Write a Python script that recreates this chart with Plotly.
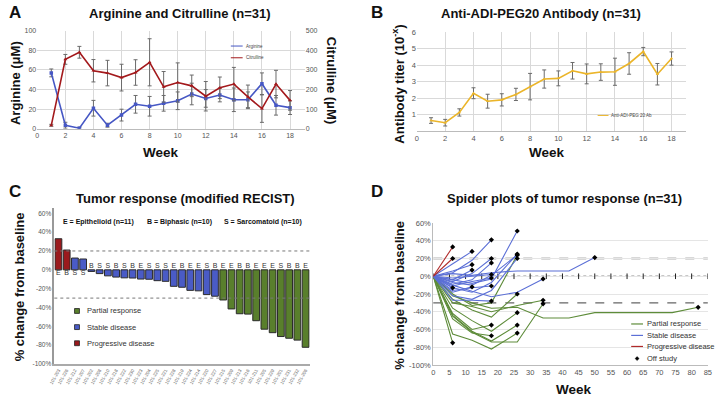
import plotly.graph_objects as go

W, H = 719, 402
FONT = "Liberation Sans, Arial, sans-serif"


def fx(x):
    return x / W


def fy(y):
    return 1 - y / H


# ---------------- Panel A: Arginine and Citrulline ----------------
weeks_a = list(range(1, 19))
arginine = [57, 3.7, 0.7, 21, 3.7, 14, 25, 23, 26, 28.6, 35.5, 31, 34.5, 29.6, 29.6, 46, 24, 21.6]
arginine_err = [4, 3, 1, 8, 2, 6, 9, 10, 8, 9, 11, 9, 7, 12, 8, 11, 10, 7]
citrulline = [18, 354, 390, 296, 284, 261, 287, 339, 214, 236, 219, 166, 209, 228, 163, 103, 228, 145]
citrulline_err = [5, 25, 30, 57, 65, 68, 65, 120, 78, 100, 55, 75, 55, 85, 60, 70, 70, 50]

# ---------------- Panel B: Anti-ADI-PEG20 antibody ----------------
weeks_b = list(range(1, 19))
antibody = [0.65, 0.52, 1.14, 2.3, 1.82, 1.9, 2.23, 2.7, 3.16, 3.2, 3.66, 3.47, 3.58, 3.6, 4.1, 4.82, 3.45, 4.4]
antibody_err = [0.17, 0.2, 0.22, 0.33, 0.42, 0.37, 0.37, 0.8, 0.55, 0.45, 0.5, 0.6, 0.5, 0.82, 0.65, 0.25, 0.65, 0.4]

# ---------------- Panel C: waterfall ----------------
patient_ids = ["101-203", "101-226", "101-212", "101-207", "101-202", "101-208", "101-210", "101-218",
               "101-222", "101-230", "101-223", "101-204", "101-225", "101-221", "101-228", "101-219",
               "101-224", "101-214", "101-220", "101-227", "101-215", "101-209", "101-213", "101-216",
               "101-211", "101-205", "101-229", "101-201", "101-231", "101-232", "101-206"]
response_pct = [33, 21, 12.5, 11.5, -1.7, -4, -6.4, -7.7, -8.5, -8.7, -9.8, -10, -11.5, -12.2, -17.5, -18.5,
                -21.8, -22.3, -26.3, -28, -32, -41.5, -46.6, -47, -54, -63, -66.7, -70.8, -72.6, -74.6, -82.2]
histology = list("EBSSBSSBSBESSSEBEESBEEBBEEESBBE")

# ---------------- Panel D: spider plot ----------------
spider_resp = ["PR"] * 11 + ["SD"] * 18 + ["PD"] * 2
spider_weeks = [
    [0, 6], [0, 6, 12, 18], [0, 6, 12, 18], [0, 6, 12, 18, 26], [0, 6, 12, 18, 26], [0, 6, 12, 18, 26],
    [0, 6, 12, 18, 26, 34], [0, 6, 12, 18, 26, 34], [0, 6, 12, 18, 26, 34, 42, 50, 74, 82],
    [0, 6, 12, 18, 26], [0, 6, 12, 18, 26],
    [0, 6, 12], [0, 6, 12], [0, 6, 12], [0, 6], [0, 6, 12, 18], [0, 6, 12, 18], [0, 6, 12, 18],
    [0, 6, 12, 18], [0, 6, 12, 18], [0, 6, 12, 18], [0, 6, 12, 18], [0, 6, 12, 18, 26],
    [0, 6, 12, 18, 26], [0, 6, 12, 18, 26], [0, 6, 12, 18, 26, 34], [0, 6, 12, 18, 26, 34, 42, 50],
    [0, 6, 12], [0, 6, 12, 18, 26],
    [0, 6], [0, 6],
]
spider_pct = [
    [0, -75], [0, -42, -60, -55], [0, -48, -64, -67], [0, -65, -72, -82, -64], [0, -44, -62, -73, -55],
    [0, -36, -50, -62, -41], [0, -45, -63, -74, -74, -31], [0, -30, -34, -40, -33, -27],
    [0, -22, -30, -36, -35, -47, -47, -41, -41, -35], [0, -20, -33, -30, 24], [0, -26, -38, -46, -20],
    [0, 14, 28], [0, 6, 13], [0, -4, 7], [0, -13], [0, 4, 18, 41], [0, -6, 3, 20], [0, -9, -4, 15],
    [0, -2, 0, 2], [0, -11, -6, -2], [0, -16, -13, -11], [0, -27, -27, -28], [0, -4, -8, -3, 51],
    [0, -13, -18, -7, 25], [0, -7, -10, 1, 24], [0, -10, -17, -23, -18, -3], [0, 3, 1, 4, 6, 6, 6, 21],
    [0, -18, -12], [0, -22, -26, -16, 20],
    [0, 33], [0, 20],
]
off_study = [True] * 31

# ---------------- colours ----------------
BLUE_A = "#4657C4"
RED_A = "#A3191C"
GOLD = "#EBB52A"
ERR = "#6b6b6b"
bar_colors_map = {"PR": "#597F2C", "SD": "#4A5BC6", "PD": "#9A1A1D"}
spider_colors = {"PR": "#5E8C3A", "SD": "#5B6FD6", "PD": "#B02A2A"}


def recist(v):
    if v >= 20:
        return "PD"
    if v <= -30:
        return "PR"
    return "SD"


fig = go.Figure()
err_style = dict(type="data", color=ERR, thickness=1, width=2)

# A
fig.add_trace(go.Scatter(x=weeks_a, y=arginine, error_y=dict(array=arginine_err, **err_style),
                         mode="lines+markers", line=dict(color=BLUE_A, width=1.6),
                         marker=dict(size=3.5, symbol="square"), xaxis="x", yaxis="y",
                         name="Arginine", showlegend=False))
fig.add_trace(go.Scatter(x=weeks_a, y=citrulline, error_y=dict(array=citrulline_err, **err_style),
                         mode="lines+markers", line=dict(color=RED_A, width=1.6),
                         marker=dict(size=3.5, symbol="triangle-up"), xaxis="x", yaxis="y2",
                         name="Citrulline", showlegend=False))
# B
fig.add_trace(go.Scatter(x=weeks_b, y=antibody, error_y=dict(array=antibody_err, **err_style),
                         mode="lines+markers", line=dict(color=GOLD, width=1.6),
                         marker=dict(size=3, symbol="triangle-up"), xaxis="x2", yaxis="y3",
                         name="Anti-ADI-PEG 20 Ab", showlegend=False))
# C
bar_colors = [bar_colors_map[recist(v)] for v in response_pct]
fig.add_trace(go.Bar(x=patient_ids, y=response_pct, width=0.82,
                     marker=dict(color=bar_colors, line=dict(color="#2b2b2b", width=1)),
                     xaxis="x3", yaxis="y4", showlegend=False))
fig.add_trace(go.Scatter(x=patient_ids, y=[0] * len(patient_ids), mode="text", text=histology,
                         textposition=["bottom center" if v > 0 else "top center" for v in response_pct],
                         textfont=dict(size=7, color="#333", family=FONT),
                         xaxis="x3", yaxis="y4", showlegend=False, hoverinfo="skip"))
# D
fig.add_trace(go.Scatter(x=list(range(0, 86, 5)), y=[0] * 18, mode="markers",
                         marker=dict(symbol="line-ns", size=4, line=dict(width=1, color="#222")),
                         xaxis="x4", yaxis="y5", showlegend=False, hoverinfo="skip"))
for wk, pc, r in zip(spider_weeks, spider_pct, spider_resp):
    fig.add_trace(go.Scatter(x=wk, y=pc, mode="lines", line=dict(color=spider_colors[r], width=1.1),
                             xaxis="x4", yaxis="y5", showlegend=False))
off_x = [wk[-1] for wk, o in zip(spider_weeks, off_study) if o]
off_y = [pc[-1] for pc, o in zip(spider_pct, off_study) if o]
fig.add_trace(go.Scatter(x=off_x, y=off_y, mode="markers",
                         marker=dict(symbol="diamond", size=4, color="black"),
                         xaxis="x4", yaxis="y5", showlegend=False))

tick_gray = "#555"
pct_vals = list(range(-100, 61, 20))
pct_text = [f"{v}%" for v in pct_vals]

fig.update_layout(
    width=W, height=H, margin=dict(l=0, r=0, t=0, b=0),
    paper_bgcolor="white", plot_bgcolor="white",
    font=dict(family=FONT, color="#222"),
    showlegend=False,
    xaxis=dict(domain=[fx(31.7), fx(303)], range=[0, 19.05], tickvals=list(range(0, 19, 2)),
               showgrid=True, gridcolor="#d9d9d9", zeroline=False, showline=True, linecolor="#bbb",
               tickfont=dict(size=7, color=tick_gray), anchor="y", ticks=""),
    yaxis=dict(domain=[fy(127.7), fy(27.3)], range=[0, 100], dtick=20, showgrid=True, gridcolor="#d9d9d9",
               zeroline=False, tickfont=dict(size=7, color=tick_gray), anchor="x"),
    yaxis2=dict(overlaying="y", side="right", range=[0, 500], dtick=100, showgrid=False, zeroline=False,
                tickfont=dict(size=7, color=tick_gray), anchor="x"),
    xaxis2=dict(domain=[fx(416.7), fx(690)], range=[0, 19.05], tickvals=list(range(0, 19, 2)),
                showgrid=True, gridcolor="#d9d9d9", zeroline=False, showline=True, linecolor="#bbb",
                tickfont=dict(size=7.5, color=tick_gray), anchor="y3", ticks=""),
    yaxis3=dict(domain=[fy(130.2), fy(28.7)], range=[0, 6], tickvals=[1, 2, 3, 4, 5, 6], showgrid=True,
                gridcolor="#d9d9d9", zeroline=False, tickfont=dict(size=7.5, color=tick_gray), anchor="x2"),
    xaxis3=dict(domain=[fx(49), fx(308)], type="category", range=[-0.5, 30.5], tickangle=-60,
                tickfont=dict(size=4.5, color="#666"), showline=True, linecolor="#aaa", linewidth=2,
                anchor="y4", ticks="", showgrid=False),
    yaxis4=dict(domain=[fy(368.3), fy(208.3)], range=[-100, 66], tickvals=pct_vals, ticktext=pct_text,
                tickfont=dict(size=6.5, color=tick_gray), showgrid=False, zeroline=False, showline=True,
                linecolor="#999", linewidth=1.5, anchor="x3"),
    xaxis4=dict(domain=[fx(433.3), fx(711.7)], range=[0, 85], tickvals=list(range(0, 86, 5)),
                tickfont=dict(size=7.5, color=tick_gray), showgrid=False, zeroline=False, showline=True,
                linecolor="#bbb", anchor="y5", ticks=""),
    yaxis5=dict(domain=[fy(369.3), fy(224)], range=[-100, 60], tickvals=pct_vals, ticktext=pct_text,
                tickfont=dict(size=7.5, color=tick_gray), showgrid=True, gridcolor="#e5e5e5", zeroline=False,
                showline=True, linecolor="#bbb", anchor="x4"),
)

shapes = []
# reference lines C
for v in (20, -30):
    shapes.append(dict(type="line", xref="x3 domain", yref="y4", x0=0, x1=1, y0=v, y1=v,
                       line=dict(color="#777", width=1, dash="dot")))
# reference lines D
for v in (20, -30):
    shapes.append(dict(type="line", xref="x4 domain", yref="y5", x0=0, x1=1, y0=v, y1=v,
                       line=dict(color="#666", width=1.4, dash="dash"), layer="below"))
shapes.append(dict(type="line", xref="x4 domain", yref="y5", x0=0, x1=1, y0=0, y1=0,
                   line=dict(color="#222", width=1.2, dash="dot"), layer="below"))

annotations = []


def ann(text, x, y, size, bold=False, angle=0, anchor="center", color="#111"):
    annotations.append(dict(text=f"<b>{text}</b>" if bold else text, x=fx(x), y=fy(y), xref="paper",
                            yref="paper", showarrow=False, textangle=angle, xanchor=anchor, yanchor="middle",
                            font=dict(size=size, color=color, family=FONT)))


# panel letters
ann("A", 9, 9, 17, True)
ann("B", 376, 9, 17, True)
ann("C", 9, 192, 17, True)
ann("D", 376, 192, 17, True)
# titles
ann("Arginine and Citrulline (n=31)", 176, 10, 13, True)
ann("Anti-ADI-PEG20 Antibody (n=31)", 543, 10, 13, True)
ann("Tumor response (modified RECIST)", 182, 199, 13, True)
ann("Spider plots of tumor response (n=31)", 566, 199, 13, True)
# axis titles
ann("Week", 157, 152, 13.5, True)
ann("Week", 549, 152, 13.5, True)
ann("Week", 576, 394, 13.5, True)
ann("Arginine (μM)", 9, 81, 13, True, -90)
ann("Citrulline (μM)", 330, 78, 13, True, 90)
ann("Antibody titer (10<sup>-x</sup>)", 398, 82, 13, True, -90)
ann("% change from baseline", 14, 289, 13, True, -90)
ann("% change from baseline", 399, 298, 13, True, -90)
# panel C subtitle
ann("E = Epithelioid (n=11)", 94, 223, 7, True)
ann("B = Biphasic (n=10)", 176, 223, 7, True)
ann("S = Sarcomatoid (n=10)", 261, 223, 7, True)

# legend A
for label, color, yy in (("Arginine", BLUE_A, 43), ("Citrulline", RED_A, 55)):
    shapes.append(dict(type="line", xref="paper", yref="paper", x0=fx(228), x1=fx(240), y0=fy(yy), y1=fy(yy),
                       line=dict(color=color, width=1)))
    ann(label, 241, yy, 4.5, anchor="left", color="#444")
# legend B
shapes.append(dict(type="line", xref="paper", yref="paper", x0=fx(600), x1=fx(611), y0=fy(114), y1=fy(114),
                   line=dict(color=GOLD, width=1)))
ann("Anti-ADI-PEG 20 Ab", 612, 114, 4.5, anchor="left", color="#444")
# legend C
for label, key, yy in (("Partial response", "PR", 314), ("Stable disease", "SD", 330.5),
                       ("Progressive disease", "PD", 347)):
    shapes.append(dict(type="rect", xref="paper", yref="paper", x0=fx(69.5), x1=fx(74.5),
                       y0=fy(yy + 2.5), y1=fy(yy - 2.5), fillcolor=bar_colors_map[key],
                       line=dict(color="#222", width=0.8)))
    ann(label, 80, yy, 7.5, anchor="left", color="#333")
# legend D
for label, key, yy in (("Partial response", "PR", 327.3), ("Stable disease", "SD", 339),
                       ("Progressive disease", "PD", 350.3)):
    shapes.append(dict(type="line", xref="paper", yref="paper", x0=fx(634), x1=fx(646), y0=fy(yy), y1=fy(yy),
                       line=dict(color=spider_colors[key], width=1.2)))
    ann(label, 648, yy, 7.5, anchor="left", color="#333")
cx, cy = 640, 362.7
shapes.append(dict(type="path", xref="paper", yref="paper",
                   path=f"M {fx(cx)},{fy(cy - 2)} L {fx(cx + 2)},{fy(cy)} L {fx(cx)},{fy(cy + 2)} L {fx(cx - 2)},{fy(cy)} Z",
                   fillcolor="black", line=dict(color="black", width=0.5)))
ann("Off study", 648, 362.7, 7.5, anchor="left", color="#333")

fig.update_layout(shapes=shapes, annotations=annotations)
fig.write_html("out.html", config={"displayModeBar": False},
               post_script="document.body.style.margin='0';document.body.style.overflow='hidden';")
